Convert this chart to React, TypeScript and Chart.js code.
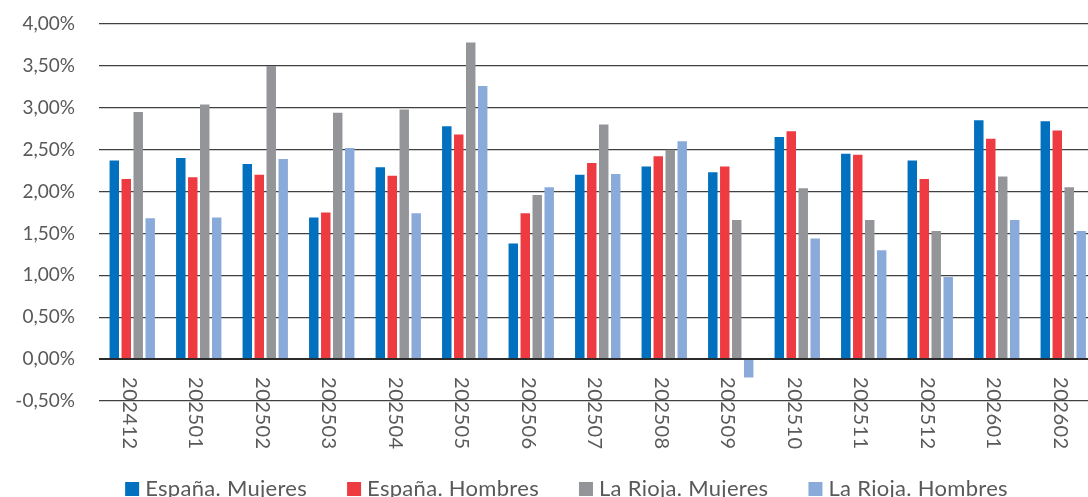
import React, { useEffect, useRef } from "react";
import { Chart, registerables } from "chart.js";

Chart.register(...registerables);

// Monthly series (percent values)
const periods = [
  "202412", "202501", "202502", "202503", "202504", "202505", "202506", "202507",
  "202508", "202509", "202510", "202511", "202512", "202601", "202602",
];
const espanaMujeres = [2.37, 2.40, 2.33, 1.69, 2.29, 2.78, 1.38, 2.20, 2.30, 2.23, 2.65, 2.45, 2.37, 2.85, 2.84];
const espanaHombres = [2.15, 2.17, 2.20, 1.75, 2.19, 2.68, 1.74, 2.34, 2.42, 2.30, 2.72, 2.44, 2.15, 2.63, 2.73];
const riojaMujeres = [2.95, 3.04, 3.50, 2.94, 2.98, 3.78, 1.96, 2.80, 2.50, 1.66, 2.04, 1.66, 1.53, 2.18, 2.05];
const riojaHombres = [1.68, 1.69, 2.39, 2.52, 1.74, 3.26, 2.05, 2.21, 2.60, -0.22, 1.44, 1.30, 0.98, 1.66, 1.53];

const seriesNames = ["España. Mujeres", "España. Hombres", "La Rioja. Mujeres", "La Rioja. Hombres"];
const seriesColors = ["#0070BF", "#EE3B42", "#939598", "#8AABDA"];

const yTicks = { min: -0.5, max: 4, step: 0.5 };

const FONT = "Lato, 'DejaVu Sans', sans-serif";
const TEXT_COLOR = "#595959";

const W = 1100;
const H = 497;

// Period labels written top-to-bottom just under the zero line
const periodLabels = {
  id: "periodLabels",
  afterDraw(chart: any) {
    const { ctx } = chart;
    const xs = chart.scales.x;
    const ys = chart.scales.y;
    const y0 = ys.getPixelForValue(0) + 18;
    ctx.save();
    ctx.font = `20px ${FONT}`;
    ctx.fillStyle = TEXT_COLOR;
    ctx.textAlign = "left";
    ctx.textBaseline = "middle";
    (ctx as any).letterSpacing = "0.5px";
    chart.data.labels.forEach((lab: string, i: number) => {
      const x = xs.getPixelForValue(i) - 3;
      ctx.save();
      ctx.translate(x, y0);
      ctx.rotate(Math.PI / 2);
      ctx.fillText(lab, 0, 0);
      ctx.restore();
    });
    ctx.restore();
  },
};

// Single-row legend along the bottom edge
const legendRow = {
  id: "legendRow",
  afterDraw(chart: any) {
    const { ctx } = chart;
    const box = 14;
    const boxGap = 6;
    const itemGap = 40;
    const center = 566.5;
    const baseline = 496;
    ctx.save();
    ctx.font = `22px ${FONT}`;
    (ctx as any).letterSpacing = "0.3px";
    const items = chart.data.datasets.map((ds: any) => ({
      label: ds.label,
      color: ds.backgroundColor,
      w: box + boxGap + ctx.measureText(ds.label).width,
    }));
    const total = items.reduce((s: number, it: any) => s + it.w, 0) + itemGap * (items.length - 1);
    let x = center - total / 2;
    ctx.textAlign = "left";
    ctx.textBaseline = "alphabetic";
    items.forEach((it: any) => {
      ctx.fillStyle = it.color;
      ctx.fillRect(x, baseline - box, box, box);
      ctx.fillStyle = TEXT_COLOR;
      ctx.fillText(it.label, x + box + boxGap, baseline);
      x += it.w + itemGap;
    });
    ctx.restore();
  },
};

export default function App() {
  const ref = useRef<HTMLCanvasElement | null>(null);

  useEffect(() => {
    if (!ref.current) return;
    const values = [espanaMujeres, espanaHombres, riojaMujeres, riojaHombres];
    const chart = new Chart(ref.current, {
      type: "bar",
      data: {
        labels: periods,
        datasets: values.map((v, i) => ({
          label: seriesNames[i],
          data: v,
          backgroundColor: seriesColors[i],
          borderWidth: 0,
          categoryPercentage: 0.72,
          barPercentage: 0.79,
        })),
      },
      options: {
        responsive: false,
        animation: false,
        layout: { padding: { left: 0, top: 24, right: 3.5, bottom: 96 } },
        plugins: {
          legend: { display: false },
          tooltip: { enabled: false },
        },
        scales: {
          x: {
            display: false,
          },
          y: {
            min: yTicks.min,
            max: yTicks.max,
            afterFit(scale: any) {
              scale.width = 99;
              scale.paddingTop = 0;
              scale.paddingBottom = 0;
            },
            ticks: {
              stepSize: yTicks.step,
              padding: 24,
              color: TEXT_COLOR,
              font: { family: FONT, size: 19 },
              callback: (v: any) => Number(v).toFixed(2).replace(".", ",") + "%",
            },
            grid: {
              drawTicks: false,
              color: (c: any) => (c.tick && c.tick.value === 0 ? "#2b2b2b" : "#404040"),
              lineWidth: (c: any) => (c.tick && c.tick.value === 0 ? 2 : 1.2),
            },
            border: { display: false },
          },
        },
      },
      plugins: [periodLabels, legendRow],
    });
    return () => chart.destroy();
  }, []);

  return (
    <div
      style={{
        position: "fixed",
        left: 0,
        top: 0,
        width: 1088,
        height: 497,
        overflow: "hidden",
        background: "#ffffff",
      }}
    >
      <canvas ref={ref} width={W} height={H} style={{ display: "block" }} />
    </div>
  );
}
